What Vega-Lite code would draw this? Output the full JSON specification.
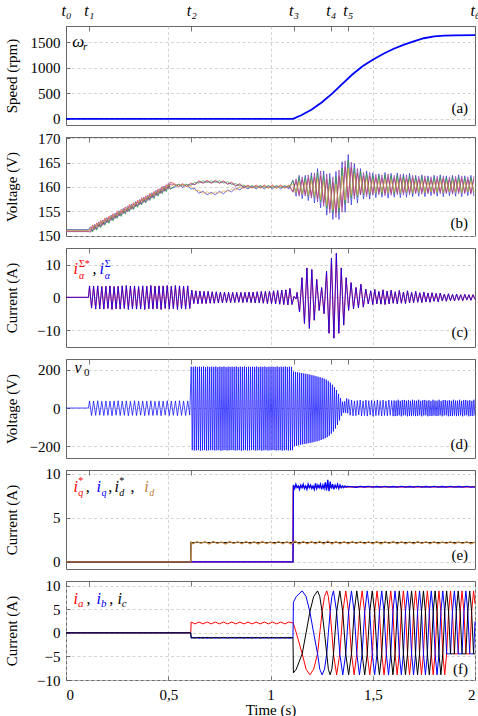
{
"$schema":"https://vega.github.io/schema/vega-lite/v6.json",
"background":"white",
"padding":{"left":3,"top":1,"right":0,"bottom":2},
"spacing":12,
"bounds":"flush",
"resolve":{"scale":{"color":"independent"}},
"config":{
 "font":"Liberation Serif, DejaVu Serif, serif",
 "view":{"stroke":"#666666","strokeWidth":1},
 "axis":{"labelFont":"Liberation Serif, DejaVu Serif, serif","titleFont":"Liberation Serif, DejaVu Serif, serif","labelFontSize":15,"titleFontSize":15,"titleFontWeight":"normal","labelColor":"#000","titleColor":"#000","domain":false,"tickColor":"#555","tickWidth":0.8,"gridColor":"#c8c8c8","gridDash":[3,2.5],"gridWidth":0.8},
 "axisY":{"tickSize":-4,"labelPadding":10,"titleX":-55,"titleBaseline":"middle","grid":true,"labelOverlap":false},
 "text":{"font":"Liberation Serif, DejaVu Serif, serif"}
},
"datasets":{
"spd":[{"t":0,"v":0},{"t":1.11,"v":0},{"t":1.15,"v":70},{"t":1.2,"v":180},{"t":1.25,"v":320},{"t":1.3,"v":490},{"t":1.35,"v":680},{"t":1.4,"v":870},{"t":1.45,"v":1030},{"t":1.5,"v":1160},{"t":1.55,"v":1270},{"t":1.6,"v":1370},{"t":1.65,"v":1450},{"t":1.7,"v":1520},{"t":1.75,"v":1580},{"t":1.8,"v":1618},{"t":1.85,"v":1632},{"t":1.9,"v":1638},{"t":2,"v":1640}],
"vc":[
{"t":0,"a":151.2,"b":150.9,"c":151.1,"d":150.8,"e":151.0},
{"t":0.11,"a":151.2,"b":150.9,"c":151.1,"d":150.8,"e":151.0},
{"t":0.12,"a":151.8,"b":150.9,"c":151.4,"d":150.7,"e":151.6},
{"t":0.13,"a":150.9,"b":152.2,"c":150.7,"d":151.8,"e":151.3},
{"t":0.14,"a":152.3,"b":151.4,"c":151.9,"d":151.2,"e":152.1},
{"t":0.15,"a":151.3,"b":152.6,"c":151.1,"d":152.2,"e":151.7},
{"t":0.16,"a":152.8,"b":151.9,"c":152.4,"d":151.7,"e":152.6},
{"t":0.17,"a":151.8,"b":153.1,"c":151.6,"d":152.7,"e":152.2},
{"t":0.18,"a":153.2,"b":152.3,"c":152.8,"d":152.1,"e":153.0},
{"t":0.19,"a":152.3,"b":153.6,"c":152.1,"d":153.2,"e":152.7},
{"t":0.20,"a":153.7,"b":152.8,"c":153.3,"d":152.6,"e":153.5},
{"t":0.21,"a":152.7,"b":154.0,"c":152.5,"d":153.6,"e":153.1},
{"t":0.22,"a":154.2,"b":153.3,"c":153.8,"d":153.1,"e":154.0},
{"t":0.23,"a":153.2,"b":154.5,"c":153.0,"d":154.1,"e":153.6},
{"t":0.24,"a":154.6,"b":153.7,"c":154.2,"d":153.5,"e":154.4},
{"t":0.25,"a":153.7,"b":155.0,"c":153.5,"d":154.6,"e":154.1},
{"t":0.26,"a":155.1,"b":154.2,"c":154.7,"d":154.0,"e":154.9},
{"t":0.27,"a":154.1,"b":155.4,"c":153.9,"d":155.0,"e":154.5},
{"t":0.28,"a":155.6,"b":154.7,"c":155.2,"d":154.5,"e":155.4},
{"t":0.29,"a":154.6,"b":155.9,"c":154.4,"d":155.5,"e":155.0},
{"t":0.30,"a":156.0,"b":155.1,"c":155.6,"d":154.9,"e":155.8},
{"t":0.31,"a":155.1,"b":156.4,"c":154.9,"d":156.0,"e":155.5},
{"t":0.32,"a":156.5,"b":155.6,"c":156.1,"d":155.4,"e":156.3},
{"t":0.33,"a":155.5,"b":156.8,"c":155.3,"d":156.4,"e":155.9},
{"t":0.34,"a":157.0,"b":156.1,"c":156.6,"d":155.9,"e":156.8},
{"t":0.35,"a":156.0,"b":157.3,"c":155.8,"d":156.9,"e":156.4},
{"t":0.36,"a":157.4,"b":156.5,"c":157.0,"d":156.3,"e":157.2},
{"t":0.37,"a":156.5,"b":157.8,"c":156.3,"d":157.4,"e":156.9},
{"t":0.38,"a":157.9,"b":157.0,"c":157.5,"d":156.8,"e":157.7},
{"t":0.39,"a":156.9,"b":158.2,"c":156.7,"d":157.8,"e":157.3},
{"t":0.40,"a":158.3,"b":157.4,"c":157.9,"d":157.2,"e":158.1},
{"t":0.41,"a":157.4,"b":158.7,"c":157.2,"d":158.3,"e":157.8},
{"t":0.42,"a":158.8,"b":157.9,"c":158.4,"d":157.7,"e":158.6},
{"t":0.43,"a":157.8,"b":159.1,"c":157.6,"d":158.7,"e":158.2},
{"t":0.44,"a":159.3,"b":158.4,"c":158.9,"d":158.2,"e":159.1},
{"t":0.45,"a":158.3,"b":159.6,"c":158.1,"d":159.2,"e":158.7},
{"t":0.46,"a":159.7,"b":158.8,"c":159.3,"d":158.6,"e":159.5},
{"t":0.47,"a":158.8,"b":160.1,"c":158.6,"d":159.7,"e":159.2},
{"t":0.48,"a":160.2,"b":159.3,"c":159.8,"d":159.1,"e":160.0},
{"t":0.49,"a":159.2,"b":160.5,"c":159.0,"d":160.1,"e":159.6},
{"t":0.50,"a":160.7,"b":159.8,"c":160.3,"d":159.6,"e":160.5},
{"t":0.51,"a":159.7,"b":161.0,"c":159.5,"d":160.6,"e":160.1},
{"t":0.53,"a":159.9,"b":160.7,"c":160.2,"d":160.5,"e":160.5},
{"t":0.55,"a":160.5,"b":160.1,"c":160.6,"d":160.1,"e":160.1},
{"t":0.57,"a":159.9,"b":160.7,"c":160.2,"d":160.5,"e":160.5},
{"t":0.59,"a":160.5,"b":160.1,"c":160.6,"d":160.1,"e":160.1},
{"t":0.61,"a":159.6,"b":160.8,"c":160.3,"d":160.6,"e":160.2},
{"t":0.63,"a":159.7,"b":160.5,"c":161.0,"d":160.5,"e":159.3},
{"t":0.65,"a":158.7,"b":161.3,"c":160.8,"d":161.1,"e":159.3},
{"t":0.67,"a":159.1,"b":160.8,"c":161.3,"d":160.8,"e":158.7},
{"t":0.69,"a":158.4,"b":161.4,"c":160.9,"d":161.2,"e":159.0},
{"t":0.71,"a":158.9,"b":160.8,"c":161.3,"d":160.8,"e":158.5},
{"t":0.73,"a":158.4,"b":161.4,"c":160.9,"d":161.2,"e":159.0},
{"t":0.75,"a":159.1,"b":160.8,"c":161.3,"d":160.8,"e":158.7},
{"t":0.77,"a":158.6,"b":161.3,"c":160.8,"d":161.1,"e":159.2},
{"t":0.79,"a":159.4,"b":160.6,"c":161.1,"d":160.6,"e":159.0},
{"t":0.81,"a":159.0,"b":161.0,"c":160.5,"d":160.8,"e":159.6},
{"t":0.83,"a":159.8,"b":160.2,"c":160.7,"d":160.2,"e":159.4},
{"t":0.85,"a":159.4,"b":160.7,"c":160.2,"d":160.5,"e":160.0},
{"t":0.87,"a":160.1,"b":159.9,"c":160.4,"d":159.9,"e":159.7},
{"t":0.89,"a":159.6,"b":160.4,"c":159.9,"d":160.2,"e":160.2},
{"t":0.91,"a":160.2,"b":159.8,"c":160.3,"d":159.8,"e":159.8},
{"t":0.93,"a":159.6,"b":160.4,"c":159.9,"d":160.2,"e":160.2},
{"t":0.95,"a":160.2,"b":159.8,"c":160.3,"d":159.8,"e":159.8},
{"t":0.97,"a":159.6,"b":160.4,"c":159.9,"d":160.2,"e":160.2},
{"t":0.99,"a":160.2,"b":159.8,"c":160.3,"d":159.8,"e":159.8},
{"t":1.01,"a":159.6,"b":160.4,"c":159.9,"d":160.2,"e":160.2},
{"t":1.03,"a":160.2,"b":159.8,"c":160.3,"d":159.8,"e":159.8},
{"t":1.05,"a":159.6,"b":160.4,"c":159.9,"d":160.2,"e":160.2},
{"t":1.07,"a":160.2,"b":159.8,"c":160.3,"d":159.8,"e":159.8},
{"t":1.09,"a":159.6,"b":160.4,"c":159.9,"d":160.2,"e":160.2},
{"t":1.11,"a":161.4,"b":159.1,"c":161.3,"d":158.9,"e":160.6},
{"t":1.125,"a":158.1,"b":161.2,"c":158.8,"d":161.7,"e":158.8},
{"t":1.14,"a":162.4,"b":158.5,"c":162.0,"d":158.1,"e":161.1},
{"t":1.155,"a":157.6,"b":161.5,"c":158.5,"d":162.1,"e":158.5},
{"t":1.17,"a":162.4,"b":158.5,"c":162.0,"d":158.1,"e":161.1},
{"t":1.185,"a":157.2,"b":161.8,"c":158.1,"d":162.5,"e":158.3},
{"t":1.2,"a":162.9,"b":158.2,"c":162.3,"d":157.7,"e":161.3},
{"t":1.215,"a":156.7,"b":162.1,"c":157.8,"d":162.9,"e":158.1},
{"t":1.23,"a":163.8,"b":157.6,"c":163.0,"d":156.9,"e":161.8},
{"t":1.245,"a":155.7,"b":162.3,"c":157.0,"d":163.3,"e":157.4},
{"t":1.26,"a":163.3,"b":156.7,"c":162.4,"d":156.0,"e":161.2},
{"t":1.275,"a":154.2,"b":161.6,"c":155.6,"d":162.7,"e":156.2},
{"t":1.29,"a":162.8,"b":155.4,"c":161.8,"d":154.6,"e":160.4},
{"t":1.305,"a":153.3,"b":161.0,"c":154.7,"d":162.1,"e":155.3},
{"t":1.32,"a":163.2,"b":154.7,"c":162.1,"d":153.7,"e":160.6},
{"t":1.335,"a":153.3,"b":162.2,"c":154.9,"d":163.5,"e":155.7},
{"t":1.35,"a":165.2,"b":155.9,"c":163.9,"d":154.8,"e":162.3},
{"t":1.365,"a":154.8,"b":164.1,"c":156.5,"d":165.4,"e":157.3},
{"t":1.38,"a":166.7,"b":157.8,"c":165.5,"d":156.7,"e":163.9},
{"t":1.395,"a":156.3,"b":164.0,"c":157.7,"d":165.1,"e":158.3},
{"t":1.41,"a":164.8,"b":158.2,"c":163.9,"d":157.5,"e":162.7},
{"t":1.425,"a":156.7,"b":162.9,"c":157.9,"d":163.8,"e":158.3},
{"t":1.44,"a":163.8,"b":158.4,"c":163.2,"d":158.4,"e":162.0},
{"t":1.455,"a":157.5,"b":162.3,"c":158.4,"d":163.0,"e":158.7},
{"t":1.47,"a":163.3,"b":158.5,"c":162.8,"d":158.0,"e":161.8},
{"t":1.485,"a":157.5,"b":162.3,"c":158.4,"d":163.0,"e":158.7},
{"t":1.5,"a":162.9,"b":158.8,"c":162.4,"d":158.3,"e":161.5},
{"t":1.515,"a":157.8,"b":161.9,"c":158.7,"d":162.6,"e":158.8},
{"t":1.53,"a":162.7,"b":158.9,"c":162.3,"d":158.4,"e":161.4},
{"t":1.545,"a":157.9,"b":161.8,"c":158.6,"d":162.5,"e":158.9},
{"t":1.56,"a":163.0,"b":158.7,"c":162.5,"d":158.2,"e":161.6},
{"t":1.575,"a":157.7,"b":162.0,"c":158.8,"d":162.7,"e":158.7},
{"t":1.59,"a":162.8,"b":158.8,"c":162.3,"d":158.3,"e":161.5},
{"t":1.605,"a":157.9,"b":161.8,"c":158.6,"d":162.4,"e":158.9},
{"t":1.62,"a":162.9,"b":158.9,"c":162.4,"d":158.4,"e":161.4},
{"t":1.635,"a":157.8,"b":161.9,"c":158.7,"d":162.6,"e":158.8},
{"t":1.65,"a":162.7,"b":158.8,"c":162.2,"d":158.3,"e":161.5},
{"t":1.665,"a":157.9,"b":161.7,"c":158.8,"d":162.5,"e":158.9},
{"t":1.68,"a":162.8,"b":158.9,"c":162.3,"d":158.4,"e":161.4},
{"t":1.695,"a":158.0,"b":161.8,"c":158.7,"d":162.4,"e":158.8},
{"t":1.71,"a":162.4,"b":158.9,"c":162.0,"d":158.6,"e":161.2},
{"t":1.725,"a":158.1,"b":161.6,"c":158.9,"d":162.2,"e":158.9},
{"t":1.74,"a":162.5,"b":159.0,"c":162.1,"d":158.5,"e":161.3},
{"t":1.755,"a":158.0,"b":161.7,"c":158.8,"d":162.3,"e":158.8},
{"t":1.77,"a":162.3,"b":158.9,"c":161.9,"d":158.6,"e":161.1},
{"t":1.785,"a":158.2,"b":161.5,"c":159.0,"d":162.1,"e":159.0},
{"t":1.8,"a":162.4,"b":158.8,"c":162.0,"d":158.5,"e":161.2},
{"t":1.815,"a":158.1,"b":161.6,"c":158.9,"d":162.2,"e":158.9},
{"t":1.83,"a":162.5,"b":159.0,"c":162.1,"d":158.6,"e":161.3},
{"t":1.845,"a":158.0,"b":161.7,"c":158.8,"d":162.3,"e":158.8},
{"t":1.86,"a":162.3,"b":158.9,"c":161.9,"d":158.6,"e":161.1},
{"t":1.875,"a":158.2,"b":161.5,"c":159.0,"d":162.1,"e":159.0},
{"t":1.89,"a":162.4,"b":158.8,"c":162.0,"d":158.5,"e":161.2},
{"t":1.905,"a":158.1,"b":161.6,"c":158.9,"d":162.2,"e":158.9},
{"t":1.92,"a":162.5,"b":159.0,"c":162.1,"d":158.6,"e":161.3},
{"t":1.935,"a":158.0,"b":161.7,"c":158.8,"d":162.3,"e":158.8},
{"t":1.95,"a":162.3,"b":158.9,"c":161.9,"d":158.6,"e":161.1},
{"t":1.965,"a":158.2,"b":161.5,"c":159.0,"d":162.1,"e":159.0},
{"t":1.98,"a":162.4,"b":158.8,"c":162.0,"d":158.5,"e":161.2},
{"t":1.995,"a":158.1,"b":161.6,"c":158.9,"d":162.2,"e":158.9}
],
"ia":[{"t":0,"v":0},{"t":0.11,"v":0},
{"t":0.115,"v":3.5},{"t":0.125,"v":-3.3},{"t":0.135,"v":3.4},{"t":0.145,"v":-3.6},{"t":0.155,"v":3.5},{"t":0.165,"v":-3.5},{"t":0.175,"v":3.3},{"t":0.185,"v":-3.6},{"t":0.195,"v":3.4},{"t":0.205,"v":-3.4},{"t":0.215,"v":3.5},{"t":0.225,"v":-3.7},{"t":0.235,"v":3.3},{"t":0.245,"v":-3.5},{"t":0.255,"v":3.4},{"t":0.265,"v":-3.6},{"t":0.275,"v":3.5},{"t":0.285,"v":-3.4},{"t":0.295,"v":3.6},{"t":0.305,"v":-3.7},{"t":0.315,"v":3.4},{"t":0.325,"v":-3.5},{"t":0.335,"v":3.5},{"t":0.345,"v":-3.6},{"t":0.355,"v":3.3},{"t":0.365,"v":-3.5},{"t":0.375,"v":3.5},{"t":0.385,"v":-3.7},{"t":0.395,"v":3.4},{"t":0.405,"v":-3.5},{"t":0.415,"v":3.6},{"t":0.425,"v":-3.6},{"t":0.435,"v":3.4},{"t":0.445,"v":-3.5},{"t":0.455,"v":3.5},{"t":0.465,"v":-3.7},{"t":0.475,"v":3.5},{"t":0.485,"v":-3.4},{"t":0.495,"v":3.6},{"t":0.505,"v":-3.6},{"t":0.515,"v":3.4},{"t":0.525,"v":-3.5},{"t":0.535,"v":3.6},{"t":0.545,"v":-3.7},{"t":0.555,"v":3.5},{"t":0.565,"v":-3.5},{"t":0.575,"v":3.4},{"t":0.585,"v":-3.6},{"t":0.595,"v":3.5},{"t":0.605,"v":-3.4},
{"t":0.615,"v":2.2},{"t":0.625,"v":-1.9},{"t":0.635,"v":2.0},{"t":0.645,"v":-2.0},{"t":0.655,"v":1.9},{"t":0.665,"v":-1.9},{"t":0.675,"v":1.8},{"t":0.685,"v":-1.9},{"t":0.695,"v":1.8},{"t":0.705,"v":-1.8},{"t":0.715,"v":1.7},{"t":0.725,"v":-1.8},{"t":0.735,"v":1.7},{"t":0.745,"v":-1.7},{"t":0.755,"v":1.6},{"t":0.765,"v":-1.7},{"t":0.775,"v":1.6},{"t":0.785,"v":-1.6},{"t":0.795,"v":1.5},{"t":0.805,"v":-1.6},{"t":0.815,"v":1.5},{"t":0.825,"v":-1.6},{"t":0.835,"v":1.5},{"t":0.845,"v":-1.5},{"t":0.855,"v":1.5},{"t":0.865,"v":-1.6},{"t":0.875,"v":1.5},{"t":0.885,"v":-1.5},{"t":0.895,"v":1.6},{"t":0.905,"v":-1.6},{"t":0.915,"v":1.6},{"t":0.925,"v":-1.7},{"t":0.935,"v":1.7},{"t":0.945,"v":-1.7},{"t":0.955,"v":1.8},{"t":0.965,"v":-1.8},{"t":0.975,"v":1.8},{"t":0.985,"v":-1.9},{"t":0.995,"v":1.9},{"t":1.005,"v":-1.9},{"t":1.015,"v":2.0},{"t":1.025,"v":-2.0},{"t":1.035,"v":2.1},{"t":1.045,"v":-2.1},{"t":1.055,"v":2.2},{"t":1.065,"v":-2.2},{"t":1.075,"v":2.3},{"t":1.085,"v":-2.3},{"t":1.095,"v":2.7},{"t":1.105,"v":-2.2},
{"t":1.115,"v":0.3},{"t":1.125,"v":-0.5},{"t":1.13,"v":1.5},{"t":1.142,"v":-4.5},{"t":1.154,"v":6.0},{"t":1.166,"v":-8.0},{"t":1.178,"v":9.0},{"t":1.19,"v":-9.5},{"t":1.202,"v":8.5},{"t":1.214,"v":-7.0},{"t":1.226,"v":5.5},{"t":1.238,"v":-4.0},{"t":1.25,"v":3.0},{"t":1.262,"v":-5.0},{"t":1.274,"v":8.0},{"t":1.286,"v":-11.0},{"t":1.298,"v":12.0},{"t":1.31,"v":-12.5},{"t":1.322,"v":13.5},{"t":1.334,"v":-11.0},{"t":1.346,"v":9.0},{"t":1.358,"v":-8.5},{"t":1.37,"v":6.0},{"t":1.382,"v":-4.0},{"t":1.394,"v":4.5},{"t":1.406,"v":-3.5},{"t":1.418,"v":3.0},{"t":1.43,"v":-3.2},{"t":1.442,"v":4.0},{"t":1.454,"v":-3.0},{"t":1.466,"v":2.5},{"t":1.478,"v":-2.0},
{"t":1.49,"v":2.0},{"t":1.5,"v":-2.2},{"t":1.51,"v":2.4},{"t":1.52,"v":-2.0},{"t":1.53,"v":1.8},{"t":1.54,"v":-2.1},{"t":1.55,"v":2.3},{"t":1.56,"v":-2.2},{"t":1.57,"v":1.9},{"t":1.58,"v":-2.0},{"t":1.59,"v":2.2},{"t":1.6,"v":-1.8},{"t":1.61,"v":1.7},{"t":1.62,"v":-2.0},{"t":1.63,"v":2.1},{"t":1.64,"v":-1.8},{"t":1.65,"v":1.6},{"t":1.66,"v":-1.9},{"t":1.67,"v":2.0},{"t":1.68,"v":-1.7},{"t":1.69,"v":1.5},{"t":1.7,"v":-1.6},{"t":1.71,"v":1.8},{"t":1.72,"v":-1.5},{"t":1.73,"v":1.4},{"t":1.74,"v":-1.6},{"t":1.75,"v":1.6},{"t":1.76,"v":-1.4},{"t":1.77,"v":1.3},{"t":1.78,"v":-1.5},{"t":1.79,"v":1.4},{"t":1.8,"v":-1.2},{"t":1.81,"v":1.2},{"t":1.82,"v":-1.4},{"t":1.83,"v":1.3},{"t":1.84,"v":-1.1},{"t":1.85,"v":1.0},{"t":1.86,"v":-1.2},{"t":1.87,"v":1.1},{"t":1.88,"v":-1.0},{"t":1.89,"v":0.9},{"t":1.9,"v":-1.1},{"t":1.91,"v":1.0},{"t":1.92,"v":-0.9},{"t":1.93,"v":0.8},{"t":1.94,"v":-1.0},{"t":1.95,"v":0.9},{"t":1.96,"v":-0.8},{"t":1.97,"v":0.8},{"t":1.98,"v":-0.9},{"t":1.99,"v":0.8},{"t":2.0,"v":-0.6}],
"v0":[{"t":0,"v":0},{"t":0.11,"v":0},
{"t":0.115,"v":37},{"t":0.125,"v":-39},{"t":0.135,"v":36},{"t":0.145,"v":-38},{"t":0.155,"v":38},{"t":0.165,"v":-37},{"t":0.175,"v":35},{"t":0.185,"v":-39},{"t":0.195,"v":37},{"t":0.205,"v":-38},{"t":0.215,"v":36},{"t":0.225,"v":-40},{"t":0.235,"v":37},{"t":0.245,"v":-37},{"t":0.255,"v":38},{"t":0.265,"v":-39},{"t":0.275,"v":36},{"t":0.285,"v":-38},{"t":0.295,"v":37},{"t":0.305,"v":-40},{"t":0.315,"v":35},{"t":0.325,"v":-38},{"t":0.335,"v":38},{"t":0.345,"v":-39},{"t":0.355,"v":36},{"t":0.365,"v":-37},{"t":0.375,"v":37},{"t":0.385,"v":-40},{"t":0.395,"v":36},{"t":0.405,"v":-38},{"t":0.415,"v":38},{"t":0.425,"v":-39},{"t":0.435,"v":35},{"t":0.445,"v":-38},{"t":0.455,"v":37},{"t":0.465,"v":-40},{"t":0.475,"v":36},{"t":0.485,"v":-37},{"t":0.495,"v":38},{"t":0.505,"v":-39},{"t":0.515,"v":36},{"t":0.525,"v":-38},{"t":0.535,"v":37},{"t":0.545,"v":-40},{"t":0.555,"v":38},{"t":0.565,"v":-38},{"t":0.575,"v":36},{"t":0.585,"v":-39},{"t":0.595,"v":37},{"t":0.605,"v":-36},
{"t":0.6125,"v":215},{"t":0.6175,"v":-219},{"t":0.6225,"v":214},{"t":0.6275,"v":-221},{"t":0.6325,"v":216},{"t":0.6375,"v":-220},{"t":0.6425,"v":213},{"t":0.6475,"v":-219},{"t":0.6525,"v":215},{"t":0.6575,"v":-222},{"t":0.6625,"v":214},{"t":0.6675,"v":-220},{"t":0.6725,"v":216},{"t":0.6775,"v":-219},{"t":0.6825,"v":213},{"t":0.6875,"v":-221},{"t":0.6925,"v":215},{"t":0.6975,"v":-220},{"t":0.7025,"v":214},{"t":0.7075,"v":-219},
{"t":0.7125,"v":215},{"t":0.7175,"v":-219},{"t":0.7225,"v":214},{"t":0.7275,"v":-221},{"t":0.7325,"v":216},{"t":0.7375,"v":-220},{"t":0.7425,"v":213},{"t":0.7475,"v":-219},{"t":0.7525,"v":215},{"t":0.7575,"v":-222},{"t":0.7625,"v":214},{"t":0.7675,"v":-220},{"t":0.7725,"v":216},{"t":0.7775,"v":-219},{"t":0.7825,"v":213},{"t":0.7875,"v":-221},{"t":0.7925,"v":215},{"t":0.7975,"v":-220},{"t":0.8025,"v":214},{"t":0.8075,"v":-219},
{"t":0.8125,"v":215},{"t":0.8175,"v":-219},{"t":0.8225,"v":214},{"t":0.8275,"v":-221},{"t":0.8325,"v":216},{"t":0.8375,"v":-220},{"t":0.8425,"v":213},{"t":0.8475,"v":-219},{"t":0.8525,"v":215},{"t":0.8575,"v":-222},{"t":0.8625,"v":214},{"t":0.8675,"v":-220},{"t":0.8725,"v":216},{"t":0.8775,"v":-219},{"t":0.8825,"v":213},{"t":0.8875,"v":-221},{"t":0.8925,"v":215},{"t":0.8975,"v":-220},{"t":0.9025,"v":214},{"t":0.9075,"v":-219},
{"t":0.9125,"v":215},{"t":0.9175,"v":-219},{"t":0.9225,"v":214},{"t":0.9275,"v":-221},{"t":0.9325,"v":216},{"t":0.9375,"v":-220},{"t":0.9425,"v":213},{"t":0.9475,"v":-219},{"t":0.9525,"v":215},{"t":0.9575,"v":-222},{"t":0.9625,"v":214},{"t":0.9675,"v":-220},{"t":0.9725,"v":216},{"t":0.9775,"v":-219},{"t":0.9825,"v":213},{"t":0.9875,"v":-221},{"t":0.9925,"v":215},{"t":0.9975,"v":-220},{"t":1.0025,"v":214},{"t":1.0075,"v":-219},
{"t":1.0125,"v":215},{"t":1.0175,"v":-219},{"t":1.0225,"v":214},{"t":1.0275,"v":-221},{"t":1.0325,"v":216},{"t":1.0375,"v":-220},{"t":1.0425,"v":213},{"t":1.0475,"v":-219},{"t":1.0525,"v":215},{"t":1.0575,"v":-222},{"t":1.0625,"v":214},{"t":1.0675,"v":-220},{"t":1.0725,"v":216},{"t":1.0775,"v":-219},{"t":1.0825,"v":213},{"t":1.0875,"v":-221},{"t":1.0925,"v":215},{"t":1.0975,"v":-220},{"t":1.1025,"v":214},{"t":1.1075,"v":-219},
{"t":1.1125,"v":190},{"t":1.1175,"v":-199},{"t":1.1225,"v":188},{"t":1.1275,"v":-197},{"t":1.1325,"v":186},{"t":1.1375,"v":-194},{"t":1.1425,"v":184},{"t":1.1475,"v":-191},{"t":1.1525,"v":182},{"t":1.1575,"v":-189},{"t":1.1625,"v":180},{"t":1.1675,"v":-187},{"t":1.1725,"v":178},{"t":1.1775,"v":-185},{"t":1.1825,"v":176},{"t":1.1875,"v":-183},{"t":1.1925,"v":174},{"t":1.1975,"v":-181},{"t":1.2025,"v":171},{"t":1.2075,"v":-178},{"t":1.2125,"v":169},{"t":1.2175,"v":-176},{"t":1.2225,"v":166},{"t":1.2275,"v":-173},{"t":1.2325,"v":163},{"t":1.2375,"v":-170},{"t":1.2425,"v":160},{"t":1.2475,"v":-166},{"t":1.2525,"v":157},{"t":1.2575,"v":-162},{"t":1.2625,"v":153},{"t":1.2675,"v":-157},{"t":1.2725,"v":148},{"t":1.2775,"v":-152},{"t":1.2825,"v":141},{"t":1.2875,"v":-144},{"t":1.2925,"v":132},{"t":1.2975,"v":-134},{"t":1.3025,"v":121},{"t":1.3075,"v":-122},{"t":1.3125,"v":108},{"t":1.3175,"v":-107},{"t":1.3225,"v":93},{"t":1.3275,"v":-88},{"t":1.3325,"v":74},{"t":1.3375,"v":-65},{"t":1.3425,"v":52},{"t":1.3475,"v":-40},{"t":1.3525,"v":33},{"t":1.3575,"v":-25},{"t":1.3625,"v":35},{"t":1.3675,"v":-25},{"t":1.3725,"v":50},{"t":1.3775,"v":-28},
{"t":1.3825,"v":45},{"t":1.3895,"v":-38},{"t":1.3965,"v":42},{"t":1.4035,"v":-41},{"t":1.4105,"v":37},{"t":1.4175,"v":-40},{"t":1.4245,"v":39},{"t":1.4315,"v":-36},{"t":1.4385,"v":42},{"t":1.4455,"v":-41},{"t":1.4525,"v":37},{"t":1.4595,"v":-39},{"t":1.4665,"v":41},{"t":1.4735,"v":-42},{"t":1.4805,"v":38},{"t":1.4875,"v":-37},{"t":1.4945,"v":40},{"t":1.5015,"v":-43},{"t":1.5085,"v":37},{"t":1.5155,"v":-40},{"t":1.5225,"v":42},{"t":1.5295,"v":-38},{"t":1.5365,"v":38},{"t":1.5435,"v":-42},{"t":1.5505,"v":41},{"t":1.5575,"v":-39},{"t":1.5645,"v":37},{"t":1.5715,"v":-41},{"t":1.5785,"v":42},{"t":1.5855,"v":-38},{"t":1.5925,"v":39},{"t":1.5995,"v":-42},
{"t":1.6045,"v":39},{"t":1.6095,"v":-42},{"t":1.6145,"v":38},{"t":1.6195,"v":-41},{"t":1.6245,"v":43},{"t":1.6295,"v":-38},{"t":1.6345,"v":37},{"t":1.6395,"v":-43},{"t":1.6445,"v":41},{"t":1.6495,"v":-39},{"t":1.6545,"v":42},{"t":1.6595,"v":-38},{"t":1.6645,"v":38},{"t":1.6695,"v":-43},{"t":1.6745,"v":41},{"t":1.6795,"v":-41},{"t":1.6845,"v":37},{"t":1.6895,"v":-42},{"t":1.6945,"v":43},{"t":1.6995,"v":-39},
{"t":1.7045,"v":39},{"t":1.7095,"v":-42},{"t":1.7145,"v":38},{"t":1.7195,"v":-41},{"t":1.7245,"v":43},{"t":1.7295,"v":-38},{"t":1.7345,"v":37},{"t":1.7395,"v":-43},{"t":1.7445,"v":41},{"t":1.7495,"v":-39},{"t":1.7545,"v":42},{"t":1.7595,"v":-38},{"t":1.7645,"v":38},{"t":1.7695,"v":-43},{"t":1.7745,"v":41},{"t":1.7795,"v":-41},{"t":1.7845,"v":37},{"t":1.7895,"v":-42},{"t":1.7945,"v":43},{"t":1.7995,"v":-39},
{"t":1.8045,"v":39},{"t":1.8095,"v":-42},{"t":1.8145,"v":38},{"t":1.8195,"v":-41},{"t":1.8245,"v":43},{"t":1.8295,"v":-38},{"t":1.8345,"v":37},{"t":1.8395,"v":-43},{"t":1.8445,"v":41},{"t":1.8495,"v":-39},{"t":1.8545,"v":42},{"t":1.8595,"v":-38},{"t":1.8645,"v":38},{"t":1.8695,"v":-43},{"t":1.8745,"v":41},{"t":1.8795,"v":-41},{"t":1.8845,"v":37},{"t":1.8895,"v":-42},{"t":1.8945,"v":43},{"t":1.8995,"v":-39},
{"t":1.9045,"v":39},{"t":1.9095,"v":-42},{"t":1.9145,"v":38},{"t":1.9195,"v":-41},{"t":1.9245,"v":43},{"t":1.9295,"v":-38},{"t":1.9345,"v":37},{"t":1.9395,"v":-43},{"t":1.9445,"v":41},{"t":1.9495,"v":-39},{"t":1.9545,"v":42},{"t":1.9595,"v":-38},{"t":1.9645,"v":38},{"t":1.9695,"v":-43},{"t":1.9745,"v":41},{"t":1.9795,"v":-41},{"t":1.9845,"v":37},{"t":1.9895,"v":-42},{"t":1.9945,"v":43},{"t":1.9995,"v":-39}],
"iqr":[{"t":0,"v":0},{"t":1.11,"v":0},{"t":1.111,"v":8.5},{"t":2,"v":8.5}],
"idr":[{"t":0,"v":0},{"t":0.61,"v":0},{"t":0.611,"v":2.2},{"t":2,"v":2.2}],
"iq":[{"t":0,"v":0},{"t":1.11,"v":0},{"t":1.112,"v":8.7},{"t":1.118,"v":8.3},{"t":1.124,"v":8.8},{"t":1.13,"v":8.4},{"t":1.136,"v":8.6},{"t":1.142,"v":8.2},{"t":1.148,"v":8.7},{"t":1.154,"v":8.4},{"t":1.16,"v":8.8},{"t":1.166,"v":8.3},{"t":1.172,"v":8.6},{"t":1.178,"v":8.2},{"t":1.184,"v":8.8},{"t":1.19,"v":8.4},{"t":1.196,"v":8.7},{"t":1.202,"v":8.3},{"t":1.208,"v":8.6},{"t":1.214,"v":8.2},{"t":1.22,"v":8.9},{"t":1.226,"v":8.3},{"t":1.232,"v":8.7},{"t":1.238,"v":8.4},{"t":1.244,"v":8.8},{"t":1.25,"v":8.2},{"t":1.256,"v":8.7},{"t":1.262,"v":8.3},{"t":1.268,"v":9.0},{"t":1.274,"v":8.1},{"t":1.28,"v":9.3},{"t":1.286,"v":8.0},{"t":1.292,"v":9.1},{"t":1.298,"v":8.3},{"t":1.304,"v":8.8},{"t":1.31,"v":8.2},{"t":1.316,"v":8.7},{"t":1.322,"v":8.4},{"t":1.328,"v":8.8},{"t":1.334,"v":8.3},{"t":1.34,"v":8.7},{"t":1.346,"v":8.4},{"t":1.352,"v":8.6},{"t":1.358,"v":8.4},{"t":1.364,"v":8.6},{"t":1.37,"v":8.45},{"t":1.376,"v":8.55},{"t":1.4,"v":8.5},{"t":1.42,"v":8.45},{"t":1.44,"v":8.55},{"t":1.46,"v":8.48},{"t":1.48,"v":8.54},{"t":1.5,"v":8.46},{"t":1.52,"v":8.53},{"t":1.54,"v":8.47},{"t":1.56,"v":8.55},{"t":1.58,"v":8.46},{"t":1.6,"v":8.53},{"t":1.62,"v":8.47},{"t":1.64,"v":8.54},{"t":1.66,"v":8.46},{"t":1.68,"v":8.53},{"t":1.7,"v":8.47},{"t":1.72,"v":8.54},{"t":1.74,"v":8.46},{"t":1.76,"v":8.53},{"t":1.78,"v":8.47},{"t":1.8,"v":8.55},{"t":1.82,"v":8.46},{"t":1.84,"v":8.53},{"t":1.86,"v":8.47},{"t":1.88,"v":8.54},{"t":1.9,"v":8.46},{"t":1.92,"v":8.53},{"t":1.94,"v":8.47},{"t":1.96,"v":8.54},{"t":1.98,"v":8.46},{"t":2,"v":8.5}],
"id":[{"t":0,"v":0},{"t":0.61,"v":0},{"t":0.612,"v":2.25},{"t":0.62,"v":2.05},{"t":0.64,"v":2.3},{"t":0.66,"v":2.1},{"t":0.68,"v":2.28},{"t":0.7,"v":2.04},{"t":0.72,"v":2.32},{"t":0.74,"v":2.08},{"t":0.76,"v":2.27},{"t":0.78,"v":2.03},{"t":0.8,"v":2.3},{"t":0.82,"v":2.07},{"t":0.84,"v":2.29},{"t":0.86,"v":2.05},{"t":0.88,"v":2.31},{"t":0.9,"v":2.06},{"t":0.92,"v":2.28},{"t":0.94,"v":2.04},{"t":0.96,"v":2.3},{"t":0.98,"v":2.08},{"t":1.0,"v":2.27},{"t":1.02,"v":2.05},{"t":1.04,"v":2.31},{"t":1.06,"v":2.06},{"t":1.08,"v":2.29},{"t":1.1,"v":2.04},{"t":1.12,"v":2.35},{"t":1.14,"v":2.02},{"t":1.16,"v":2.32},{"t":1.18,"v":2.05},{"t":1.2,"v":2.3},{"t":1.22,"v":2.06},{"t":1.24,"v":2.33},{"t":1.26,"v":2.03},{"t":1.28,"v":2.36},{"t":1.3,"v":2.04},{"t":1.32,"v":2.3},{"t":1.34,"v":2.06},{"t":1.36,"v":2.28},{"t":1.38,"v":2.05},{"t":1.4,"v":2.3},{"t":1.42,"v":2.07},{"t":1.44,"v":2.28},{"t":1.46,"v":2.05},{"t":1.48,"v":2.29},{"t":1.5,"v":2.06},{"t":1.52,"v":2.3},{"t":1.54,"v":2.04},{"t":1.56,"v":2.28},{"t":1.58,"v":2.07},{"t":1.6,"v":2.3},{"t":1.62,"v":2.05},{"t":1.64,"v":2.29},{"t":1.66,"v":2.06},{"t":1.68,"v":2.27},{"t":1.7,"v":2.05},{"t":1.72,"v":2.3},{"t":1.74,"v":2.07},{"t":1.76,"v":2.28},{"t":1.78,"v":2.05},{"t":1.8,"v":2.29},{"t":1.82,"v":2.06},{"t":1.84,"v":2.27},{"t":1.86,"v":2.08},{"t":1.88,"v":2.28},{"t":1.9,"v":2.06},{"t":1.92,"v":2.27},{"t":1.94,"v":2.08},{"t":1.96,"v":2.29},{"t":1.98,"v":2.06},{"t":2.0,"v":2.25}],
"iabc":[
{"t":0,"a":0,"b":0,"c":0},{"t":0.61,"a":0,"b":0,"c":0},
{"t":0.612,"a":2.3,"b":-1.15,"c":-0.95},{"t":0.63,"a":1.9,"b":-0.95,"c":-1.15},{"t":0.65,"a":2.3,"b":-1.15,"c":-0.95},{"t":0.67,"a":1.9,"b":-0.95,"c":-1.15},{"t":0.69,"a":2.3,"b":-1.15,"c":-0.95},{"t":0.71,"a":1.9,"b":-0.95,"c":-1.15},{"t":0.73,"a":2.3,"b":-1.15,"c":-0.95},{"t":0.75,"a":1.9,"b":-0.95,"c":-1.15},{"t":0.77,"a":2.3,"b":-1.15,"c":-0.95},{"t":0.79,"a":1.9,"b":-0.95,"c":-1.15},{"t":0.81,"a":2.3,"b":-1.15,"c":-0.95},{"t":0.83,"a":1.9,"b":-0.95,"c":-1.15},{"t":0.85,"a":2.3,"b":-1.15,"c":-0.95},{"t":0.87,"a":1.9,"b":-0.95,"c":-1.15},{"t":0.89,"a":2.3,"b":-1.15,"c":-0.95},{"t":0.91,"a":1.9,"b":-0.95,"c":-1.15},{"t":0.93,"a":2.3,"b":-1.15,"c":-0.95},{"t":0.95,"a":1.9,"b":-0.95,"c":-1.15},{"t":0.97,"a":2.3,"b":-1.15,"c":-0.95},{"t":0.99,"a":1.9,"b":-0.95,"c":-1.15},{"t":1.01,"a":2.3,"b":-1.15,"c":-0.95},{"t":1.03,"a":1.9,"b":-0.95,"c":-1.15},{"t":1.05,"a":2.3,"b":-1.15,"c":-0.95},{"t":1.07,"a":1.9,"b":-0.95,"c":-1.15},{"t":1.09,"a":2.3,"b":-1.15,"c":-0.95},{"t":1.11,"a":2.1,"b":-1.05,"c":-1.05},
{"t":1.112,"a":2.0,"b":6.5,"c":-8.5},{"t":1.126,"a":0,"b":7.71,"c":-7.71},{"t":1.155,"a":-4.45,"b":8.9,"c":-4.45},{"t":1.174,"a":-7.71,"b":7.71,"c":0},{"t":1.1925,"a":-8.9,"b":4.45,"c":4.45},{"t":1.211,"a":-7.71,"b":0,"c":7.71},{"t":1.23,"a":-4.45,"b":-4.45,"c":8.9},{"t":1.241,"a":0,"b":-7.71,"c":7.71},{"t":1.2525,"a":4.45,"b":-8.9,"c":4.45},{"t":1.264,"a":7.71,"b":-7.71,"c":0},{"t":1.275,"a":8.9,"b":-4.45,"c":-4.45},{"t":1.283,"a":7.71,"b":0,"c":-7.71},{"t":1.2915,"a":4.45,"b":4.45,"c":-8.9},{"t":1.3,"a":0,"b":7.71,"c":-7.71},{"t":1.308,"a":-4.45,"b":8.9,"c":-4.45},
{"t":1.3235,"a":-8.9,"b":4.45,"c":4.45},{"t":1.339,"a":-4.45,"b":-4.45,"c":8.9},{"t":1.3535,"a":4.45,"b":-8.9,"c":4.45},{"t":1.368,"a":8.9,"b":-4.45,"c":-4.45},{"t":1.382,"a":4.45,"b":4.45,"c":-8.9},{"t":1.396,"a":-4.45,"b":8.9,"c":-4.45},{"t":1.409,"a":-8.9,"b":4.45,"c":4.45},{"t":1.422,"a":-4.45,"b":-4.45,"c":8.9},{"t":1.435,"a":4.45,"b":-8.9,"c":4.45},{"t":1.448,"a":8.9,"b":-4.45,"c":-4.45},
{"t":1.4606,"a":4.45,"b":4.45,"c":-8.9},{"t":1.4731,"a":-4.45,"b":8.9,"c":-4.45},{"t":1.4854,"a":-8.9,"b":4.45,"c":4.45},{"t":1.4975,"a":-4.45,"b":-4.45,"c":8.9},{"t":1.5093,"a":4.45,"b":-8.9,"c":4.45},{"t":1.521,"a":8.9,"b":-4.45,"c":-4.45},
{"t":1.5326,"a":4.45,"b":4.45,"c":-8.9},{"t":1.544,"a":-4.45,"b":8.9,"c":-4.45},{"t":1.5552,"a":-8.9,"b":4.45,"c":4.45},{"t":1.5663,"a":-4.45,"b":-4.45,"c":8.9},{"t":1.5772,"a":4.45,"b":-8.9,"c":4.45},{"t":1.588,"a":8.9,"b":-4.45,"c":-4.45},
{"t":1.5986,"a":4.45,"b":4.45,"c":-8.9},{"t":1.6091,"a":-4.45,"b":8.9,"c":-4.45},{"t":1.6194,"a":-8.9,"b":4.45,"c":4.45},{"t":1.6297,"a":-4.45,"b":-4.45,"c":8.9},{"t":1.6398,"a":4.45,"b":-8.9,"c":4.45},{"t":1.6499,"a":8.9,"b":-4.45,"c":-4.45},
{"t":1.66,"a":4.45,"b":4.45,"c":-8.9},{"t":1.67,"a":-4.45,"b":8.9,"c":-4.45},{"t":1.6799,"a":-8.9,"b":4.45,"c":4.45},{"t":1.6898,"a":-4.45,"b":-4.45,"c":8.9},{"t":1.6996,"a":4.45,"b":-8.9,"c":4.45},{"t":1.7094,"a":8.9,"b":-4.45,"c":-4.45},
{"t":1.7191,"a":4.45,"b":4.45,"c":-8.9},{"t":1.7288,"a":-4.45,"b":8.9,"c":-4.45},{"t":1.7384,"a":-8.9,"b":4.45,"c":4.45},{"t":1.748,"a":-4.45,"b":-4.45,"c":8.9},{"t":1.7576,"a":4.45,"b":-8.9,"c":4.45},{"t":1.7671,"a":8.9,"b":-4.45,"c":-4.45},
{"t":1.7766,"a":4.45,"b":4.45,"c":-8.9},{"t":1.7861,"a":-4.45,"b":8.9,"c":-4.45},{"t":1.7956,"a":-8.9,"b":4.45,"c":4.45},{"t":1.805,"a":-4.45,"b":-4.45,"c":8.9},{"t":1.8144,"a":4.45,"b":-8.9,"c":4.45},{"t":1.8238,"a":8.9,"b":-4.45,"c":-4.45},
{"t":1.8332,"a":4.45,"b":4.45,"c":-8.9},{"t":1.8426,"a":-4.45,"b":8.9,"c":-4.45},{"t":1.852,"a":-8.9,"b":4.45,"c":4.45},
{"t":1.8614,"a":-4.45,"b":-4.45,"c":8.9},{"t":1.8708,"a":4.45,"b":-4.45,"c":4.45},{"t":1.8802,"a":8.9,"b":-4.45,"c":-4.45},{"t":1.8896,"a":4.45,"b":4.45,"c":-4.45},{"t":1.899,"a":-4.45,"b":8.9,"c":-4.45},{"t":1.9084,"a":-4.45,"b":4.45,"c":4.45},
{"t":1.9178,"a":-4.45,"b":-4.45,"c":8.9},{"t":1.9272,"a":4.45,"b":-4.45,"c":4.45},{"t":1.9366,"a":8.9,"b":-4.45,"c":-4.45},{"t":1.946,"a":4.45,"b":4.45,"c":-4.45},{"t":1.9554,"a":-4.45,"b":8.9,"c":-4.45},{"t":1.9648,"a":-4.45,"b":4.45,"c":4.45},
{"t":1.9742,"a":-4.45,"b":-4.45,"c":8.9},{"t":1.9836,"a":4.45,"b":-4.45,"c":4.45},{"t":1.993,"a":8.9,"b":-4.45,"c":-4.45},{"t":2.0,"a":6.2,"b":2.45,"c":-4.45}
]
},
"vconcat":[
{
 "width":409,"height":99,
 "resolve":{"axis":{"x":"independent"}},
 "layer":[
  {"data":{"name":"spd"},"mark":{"type":"line","color":"#0000ff","strokeWidth":1.8},
   "encoding":{
    "x":{"field":"t","type":"quantitative","scale":{"domain":[0,2],"nice":false,"zero":false},"axis":{"orient":"bottom","values":[0.5,1,1.5],"labels":false,"ticks":false,"grid":true,"title":null}},
    "y":{"field":"v","type":"quantitative","scale":{"domain":[-120,1820],"nice":false,"zero":false},"axis":{"values":[0,500,1000,1500],"tickCount":12,"format":"d","labelOverlap":false,"title":"Speed (rpm)"}}}},
  {"data":{"values":[{}]},"mark":{"type":"text","text":"(a)","align":"right","baseline":"middle","fontSize":15},
   "encoding":{"x":{"datum":1.966,"axis":{"orient":"top","values":[0,0.111,0.613,1.113,1.295,1.378,2],"tickCount":20,"labelExpr":"datum.value < 0.05 ? 't₀' : datum.value < 0.3 ? 't₁' : datum.value < 0.8 ? 't₂' : datum.value < 1.2 ? 't₃' : datum.value < 1.33 ? 't₄' : datum.value < 1.5 ? 't₅' : 't₆'","labelFontStyle":"italic","labelFontSize":16,"labelOverlap":false,"labelFlush":false,"tickSize":-5,"labelPadding":13,"grid":false,"title":null}},"y":{"datum":220}}},
  {"data":{"values":[{}]},"mark":{"type":"text","text":"ω","align":"left","baseline":"alphabetic","fontSize":17,"fontStyle":"italic"},"encoding":{"x":{"datum":0.03,"axis":null},"y":{"datum":1418}}},
  {"data":{"values":[{}]},"mark":{"type":"text","text":"r","align":"left","baseline":"alphabetic","fontSize":11,"fontStyle":"italic"},"encoding":{"x":{"datum":0.083,"axis":null},"y":{"datum":1359}}}
 ]
},
{
 "width":409,"height":99,
 "resolve":{"axis":{"x":"independent"}},
 "layer":[
  {"data":{"name":"vc"},"transform":[{"fold":["a","b","c","d","e"],"as":["k","v"]}],
   "mark":{"type":"line","strokeWidth":0.8,"opacity":0.85},
   "encoding":{
    "x":{"field":"t","type":"quantitative","scale":{"domain":[0,2],"nice":false,"zero":false},"axis":{"orient":"bottom","values":[0.5,1,1.5],"labels":false,"ticks":false,"grid":true,"title":null}},
    "y":{"field":"v","type":"quantitative","scale":{"domain":[149.9,170.3],"nice":false,"zero":false},"axis":{"values":[150,155,160,165,170],"tickCount":12,"labelOverlap":false,"title":"Voltage (V)"}},
    "color":{"field":"k","type":"nominal","scale":{"domain":["a","b","c","d","e"],"range":["#2b2bd6","#d93030","#2e9e2e","#8b2f9e","#e6a23c"]},"legend":null}}},
  {"data":{"values":[{}]},"mark":{"type":"text","text":"(b)","align":"right","baseline":"middle","fontSize":15},
   "encoding":{"x":{"datum":1.966,"axis":{"orient":"top","values":[0,0.111,0.613,1.113,1.295,1.378,2],"tickCount":20,"labels":false,"tickSize":-5,"grid":false,"title":null}},"y":{"datum":152.5}}}
 ]
},
{
 "width":409,"height":99,
 "resolve":{"axis":{"x":"independent"}},
 "layer":[
  {"data":{"name":"ia"},"mark":{"type":"line","color":"#ff0000","strokeWidth":0.9},
   "encoding":{
    "x":{"field":"t","type":"quantitative","scale":{"domain":[0,2],"nice":false,"zero":false},"axis":{"orient":"bottom","values":[0.5,1,1.5],"labels":false,"ticks":false,"grid":true,"title":null}},
    "y":{"field":"v","type":"quantitative","scale":{"domain":[-15.2,15.1],"nice":false,"zero":false},"axis":{"values":[-10,0,10],"tickCount":12,"labelOverlap":false,"title":"Current (A)"}}}},
  {"data":{"name":"ia"},"mark":{"type":"line","color":"#0000ff","strokeWidth":0.9,"opacity":0.85},
   "encoding":{"x":{"field":"t","type":"quantitative","axis":null},"y":{"field":"v","type":"quantitative"}}},
  {"data":{"values":[{}]},"mark":{"type":"text","text":"(c)","align":"right","baseline":"middle","fontSize":15},
   "encoding":{"x":{"datum":1.966,"axis":{"orient":"top","values":[0,0.111,0.613,1.113,1.295,1.378,2],"tickCount":20,"labels":false,"tickSize":-5,"grid":false,"title":null}},"y":{"datum":-10.6}}},
  {"data":{"values":[{}]},"mark":{"type":"text","text":"i","align":"left","baseline":"alphabetic","fontSize":16,"fontStyle":"italic","color":"#ff0000"},"encoding":{"x":{"datum":0.037,"axis":null},"y":{"datum":7.0}}},
  {"data":{"values":[{}]},"mark":{"type":"text","text":"Σ*","align":"left","baseline":"alphabetic","fontSize":10,"color":"#ff0000"},"encoding":{"x":{"datum":0.0635,"axis":null},"y":{"datum":9.3}}},
  {"data":{"values":[{}]},"mark":{"type":"text","text":"α","align":"left","baseline":"alphabetic","fontSize":10,"fontStyle":"italic","color":"#ff0000"},"encoding":{"x":{"datum":0.0635,"axis":null},"y":{"datum":5.5}}},
  {"data":{"values":[{}]},"mark":{"type":"text","text":",","align":"left","baseline":"alphabetic","fontSize":16,"color":"#000"},"encoding":{"x":{"datum":0.129,"axis":null},"y":{"datum":7.0}}},
  {"data":{"values":[{}]},"mark":{"type":"text","text":"i","align":"left","baseline":"alphabetic","fontSize":16,"fontStyle":"italic","color":"#0000ff"},"encoding":{"x":{"datum":0.164,"axis":null},"y":{"datum":7.0}}},
  {"data":{"values":[{}]},"mark":{"type":"text","text":"Σ","align":"left","baseline":"alphabetic","fontSize":10,"color":"#0000ff"},"encoding":{"x":{"datum":0.19,"axis":null},"y":{"datum":9.3}}},
  {"data":{"values":[{}]},"mark":{"type":"text","text":"α","align":"left","baseline":"alphabetic","fontSize":10,"fontStyle":"italic","color":"#0000ff"},"encoding":{"x":{"datum":0.19,"axis":null},"y":{"datum":5.5}}}
 ]
},
{
 "width":409,"height":99,
 "resolve":{"axis":{"x":"independent"}},
 "layer":[
  {"data":{"name":"v0"},"mark":{"type":"line","color":"#0000ff","strokeWidth":0.7},
   "encoding":{
    "x":{"field":"t","type":"quantitative","scale":{"domain":[0,2],"nice":false,"zero":false},"axis":{"orient":"bottom","values":[0.5,1,1.5],"labels":false,"ticks":false,"grid":true,"title":null}},
    "y":{"field":"v","type":"quantitative","scale":{"domain":[-260,255],"nice":false,"zero":false},"axis":{"values":[-200,0,200],"tickCount":12,"labelOverlap":false,"title":"Voltage (V)"}}}},
  {"data":{"values":[{}]},"mark":{"type":"text","text":"(d)","align":"right","baseline":"middle","fontSize":15},
   "encoding":{"x":{"datum":1.966,"axis":{"orient":"top","values":[0,0.111,0.613,1.113,1.295,1.378,2],"tickCount":20,"labels":false,"tickSize":-5,"grid":false,"title":null}},"y":{"datum":-187}}},
  {"data":{"values":[{}]},"mark":{"type":"text","text":"v","align":"left","baseline":"alphabetic","fontSize":16,"fontStyle":"italic"},"encoding":{"x":{"datum":0.0415,"axis":null},"y":{"datum":182}}},
  {"data":{"values":[{}]},"mark":{"type":"text","text":"0","align":"left","baseline":"alphabetic","fontSize":11},"encoding":{"x":{"datum":0.088,"axis":null},"y":{"datum":168}}}
 ]
},
{
 "width":409,"height":99,
 "resolve":{"axis":{"x":"independent"}},
 "layer":[
  {"data":{"name":"iqr"},"mark":{"type":"line","color":"#ff0000","strokeWidth":1.2},
   "encoding":{
    "x":{"field":"t","type":"quantitative","scale":{"domain":[0,2],"nice":false,"zero":false},"axis":{"orient":"bottom","values":[0.5,1,1.5],"labels":false,"ticks":false,"grid":true,"title":null}},
    "y":{"field":"v","type":"quantitative","scale":{"domain":[-0.8,10.4],"nice":false,"zero":false},"axis":{"values":[0,5,10],"tickCount":12,"labelOverlap":false,"title":"Current (A)"}}}},
  {"data":{"name":"iq"},"mark":{"type":"line","color":"#0000ff","strokeWidth":1.3},
   "encoding":{"x":{"field":"t","type":"quantitative","axis":null},"y":{"field":"v","type":"quantitative"}}},
  {"data":{"name":"idr"},"mark":{"type":"line","color":"#000000","strokeWidth":1.2},
   "encoding":{"x":{"field":"t","type":"quantitative","axis":null},"y":{"field":"v","type":"quantitative"}}},
  {"data":{"name":"id"},"mark":{"type":"line","color":"#bf8040","strokeWidth":1.3},
   "encoding":{"x":{"field":"t","type":"quantitative","axis":null},"y":{"field":"v","type":"quantitative"}}},
  {"data":{"values":[{}]},"mark":{"type":"text","text":"(e)","align":"right","baseline":"middle","fontSize":15},
   "encoding":{"x":{"datum":1.966,"axis":{"orient":"top","values":[0,0.111,0.613,1.113,1.295,1.378,2],"tickCount":20,"labels":false,"tickSize":-5,"grid":false,"title":null}},"y":{"datum":0.8}}},
  {"data":{"values":[{}]},"mark":{"type":"text","text":"i","align":"left","baseline":"alphabetic","fontSize":16,"fontStyle":"italic","color":"#ff0000"},"encoding":{"x":{"datum":0.037,"axis":null},"y":{"datum":7.9}}},
  {"data":{"values":[{}]},"mark":{"type":"text","text":"*","align":"left","baseline":"alphabetic","fontSize":10,"color":"#ff0000"},"encoding":{"x":{"datum":0.0605,"axis":null},"y":{"datum":8.85}}},
  {"data":{"values":[{}]},"mark":{"type":"text","text":"q","align":"left","baseline":"alphabetic","fontSize":10,"fontStyle":"italic","color":"#ff0000"},"encoding":{"x":{"datum":0.0605,"axis":null},"y":{"datum":7.45}}},
  {"data":{"values":[{}]},"mark":{"type":"text","text":",","align":"left","baseline":"alphabetic","fontSize":16,"color":"#000"},"encoding":{"x":{"datum":0.097,"axis":null},"y":{"datum":7.9}}},
  {"data":{"values":[{}]},"mark":{"type":"text","text":"i","align":"left","baseline":"alphabetic","fontSize":16,"fontStyle":"italic","color":"#0000ff"},"encoding":{"x":{"datum":0.149,"axis":null},"y":{"datum":7.9}}},
  {"data":{"values":[{}]},"mark":{"type":"text","text":"q","align":"left","baseline":"alphabetic","fontSize":10,"fontStyle":"italic","color":"#0000ff"},"encoding":{"x":{"datum":0.173,"axis":null},"y":{"datum":7.45}}},
  {"data":{"values":[{}]},"mark":{"type":"text","text":",","align":"left","baseline":"alphabetic","fontSize":16,"color":"#000"},"encoding":{"x":{"datum":0.207,"axis":null},"y":{"datum":7.9}}},
  {"data":{"values":[{}]},"mark":{"type":"text","text":"i","align":"left","baseline":"alphabetic","fontSize":16,"fontStyle":"italic","color":"#000"},"encoding":{"x":{"datum":0.237,"axis":null},"y":{"datum":7.9}}},
  {"data":{"values":[{}]},"mark":{"type":"text","text":"*","align":"left","baseline":"alphabetic","fontSize":10,"color":"#000"},"encoding":{"x":{"datum":0.261,"axis":null},"y":{"datum":8.85}}},
  {"data":{"values":[{}]},"mark":{"type":"text","text":"d","align":"left","baseline":"alphabetic","fontSize":10,"fontStyle":"italic","color":"#000"},"encoding":{"x":{"datum":0.261,"axis":null},"y":{"datum":7.45}}},
  {"data":{"values":[{}]},"mark":{"type":"text","text":",","align":"left","baseline":"alphabetic","fontSize":16,"color":"#000"},"encoding":{"x":{"datum":0.315,"axis":null},"y":{"datum":7.9}}},
  {"data":{"values":[{}]},"mark":{"type":"text","text":"i","align":"left","baseline":"alphabetic","fontSize":16,"fontStyle":"italic","color":"#bf8040"},"encoding":{"x":{"datum":0.383,"axis":null},"y":{"datum":7.9}}},
  {"data":{"values":[{}]},"mark":{"type":"text","text":"d","align":"left","baseline":"alphabetic","fontSize":10,"fontStyle":"italic","color":"#bf8040"},"encoding":{"x":{"datum":0.407,"axis":null},"y":{"datum":7.45}}}
 ]
},
{
 "width":409,"height":99,
 "resolve":{"axis":{"x":"independent"}},
 "layer":[
  {"data":{"name":"iabc"},"transform":[{"fold":["a","b","c"],"as":["k","v"]}],
   "mark":{"type":"line","strokeWidth":1},
   "encoding":{
    "x":{"field":"t","type":"quantitative","scale":{"domain":[0,2],"nice":false,"zero":false},"axis":{"orient":"bottom","values":[0,0.5,1,1.5,2],"tickCount":20,"labelExpr":"replace(format(datum.value, '~g'), '.', ',')","tickSize":-4,"labelPadding":11,"grid":true,"title":"Time (s)","titlePadding":0}},
    "y":{"field":"v","type":"quantitative","scale":{"domain":[-10,11],"nice":false,"zero":false},"axis":{"values":[-10,-5,0,5,10],"tickCount":12,"labelOverlap":false,"title":"Current (A)"}},
    "color":{"field":"k","type":"nominal","scale":{"domain":["a","b","c"],"range":["#ff0000","#0000ff","#000000"]},"legend":null}}},
  {"data":{"values":[{}]},"mark":{"type":"text","text":"(f)","align":"right","baseline":"middle","fontSize":15},
   "encoding":{"x":{"datum":1.966,"axis":{"orient":"top","values":[0,0.111,0.613,1.113,1.295,1.378,2],"tickCount":20,"labels":false,"tickSize":-5,"grid":false,"title":null}},"y":{"datum":-7.6}}},
  {"data":{"values":[{}]},"mark":{"type":"text","text":"i","align":"left","baseline":"alphabetic","fontSize":16,"fontStyle":"italic","color":"#ff0000"},"encoding":{"x":{"datum":0.037,"axis":null},"y":{"datum":6.15}}},
  {"data":{"values":[{}]},"mark":{"type":"text","text":"a","align":"left","baseline":"alphabetic","fontSize":11,"fontStyle":"italic","color":"#ff0000"},"encoding":{"x":{"datum":0.059,"axis":null},"y":{"datum":5.5}}},
  {"data":{"values":[{}]},"mark":{"type":"text","text":",","align":"left","baseline":"alphabetic","fontSize":16,"color":"#000"},"encoding":{"x":{"datum":0.1,"axis":null},"y":{"datum":6.15}}},
  {"data":{"values":[{}]},"mark":{"type":"text","text":"i","align":"left","baseline":"alphabetic","fontSize":16,"fontStyle":"italic","color":"#0000ff"},"encoding":{"x":{"datum":0.149,"axis":null},"y":{"datum":6.15}}},
  {"data":{"values":[{}]},"mark":{"type":"text","text":"b","align":"left","baseline":"alphabetic","fontSize":11,"fontStyle":"italic","color":"#0000ff"},"encoding":{"x":{"datum":0.171,"axis":null},"y":{"datum":5.5}}},
  {"data":{"values":[{}]},"mark":{"type":"text","text":",","align":"left","baseline":"alphabetic","fontSize":16,"color":"#000"},"encoding":{"x":{"datum":0.212,"axis":null},"y":{"datum":6.15}}},
  {"data":{"values":[{}]},"mark":{"type":"text","text":"i","align":"left","baseline":"alphabetic","fontSize":16,"fontStyle":"italic","color":"#000"},"encoding":{"x":{"datum":0.252,"axis":null},"y":{"datum":6.15}}},
  {"data":{"values":[{}]},"mark":{"type":"text","text":"c","align":"left","baseline":"alphabetic","fontSize":11,"fontStyle":"italic","color":"#000"},"encoding":{"x":{"datum":0.273,"axis":null},"y":{"datum":5.5}}}
 ]
}
]
}
